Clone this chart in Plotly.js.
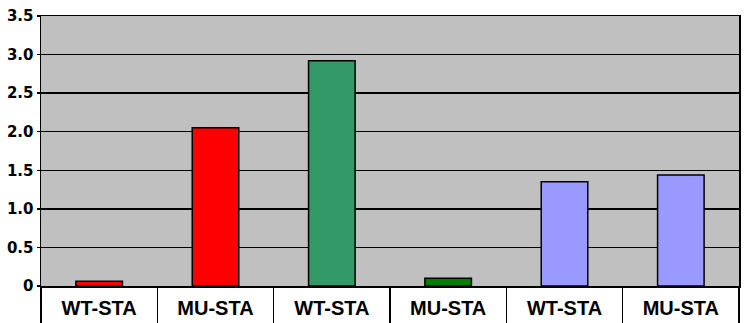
<!DOCTYPE html>
<html>
<head>
<meta charset="utf-8">
<script src="https://cdn.plot.ly/plotly-3.0.1.min.js"></script>
<style>html,body{margin:0;padding:0;background:#fff;}#chart{width:747px;height:323px;}</style>
</head>
<body>
<div id="chart"></div>
<script>
const categories = ["WT-STA", "MU-STA", "WT-STA", "MU-STA", "WT-STA", "MU-STA"];
const values = [0.06, 2.05, 2.92, 0.10, 1.35, 1.44];
const barColors = ["#FF0000", "#FF0000", "#339966", "#008000", "#9999FF", "#9999FF"];
const yTickVals = [0, 0.5, 1.0, 1.5, 2.0, 2.5, 3.0, 3.5];
const yTickText = ["0", "0.5", "1.0", "1.5", "2.0", "2.5", "3.0", "3.5"];

const xPos = categories.map((c, i) => i);
const boundaries = categories.map((c, i) => i - 0.5).concat([categories.length - 0.5]);

const trace = {
  type: "bar",
  x: xPos,
  y: values,
  marker: { color: barColors, line: { color: "#000", width: 1.5 } },
  hoverinfo: "skip"
};

const xFont = "'Liberation Sans', Arial, sans-serif";
const yFont = "'DejaVu Sans', 'Liberation Sans', Arial, sans-serif";

const layout = {
  width: 747, height: 323,
  margin: { l: 41, r: 8, t: 16, b: 37, pad: 0 },
  paper_bgcolor: "#FFFFFF",
  plot_bgcolor: "#C0C0C0",
  bargap: 0.6,
  showlegend: false,
  xaxis: {
    range: [-0.5, categories.length - 0.5],
    tickmode: "array",
    tickvals: xPos,
    ticktext: categories,
    ticks: "outside", ticklen: 3, tickcolor: "rgba(0,0,0,0)",
    showgrid: false, zeroline: false,
    showline: true, linecolor: "#000", linewidth: 1.5, mirror: true,
    tickfont: { family: xFont, size: 20, color: "#000", weight: "bold" },
    minor: { tickmode: "array", tickvals: boundaries, ticks: "outside", ticklen: 37, tickwidth: 1.5, tickcolor: "#000", showgrid: false },
    fixedrange: true
  },
  yaxis: {
    range: [0, 3.5],
    tickmode: "array",
    tickvals: yTickVals,
    ticktext: yTickText,
    ticks: "outside", ticklen: 3, tickwidth: 1.5, tickcolor: "#000",
    showgrid: true, gridcolor: "#000", gridwidth: 1.5,
    zeroline: false,
    showline: true, linecolor: "#000", linewidth: 1.5, mirror: true,
    tickfont: { family: yFont, size: 15, color: "#000", weight: "bold" },
    fixedrange: true
  }
};

Plotly.newPlot("chart", [trace], layout, { displayModeBar: false, staticPlot: true });
</script>
</body>
</html>
